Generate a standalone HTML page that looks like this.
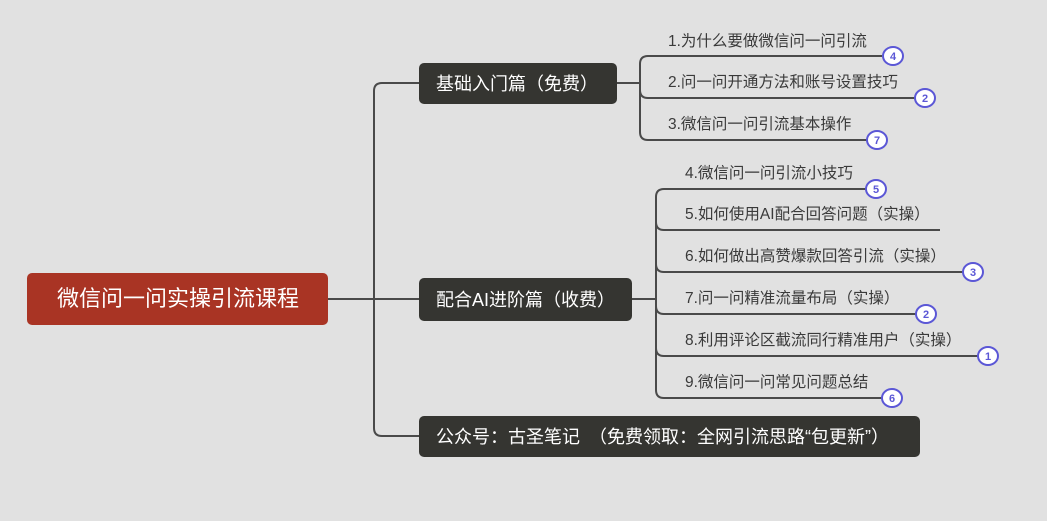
<!DOCTYPE html>
<html><head><meta charset="utf-8"><style>
html,body{margin:0;padding:0;background:#e1e1e1;}
svg{display:block}
text{font-family:"Liberation Sans","Noto Sans CJK SC",sans-serif;}
.it{font-size:15.5px;fill:#3a3a3a}
.bx{font-size:18px;fill:#fff}
.c{fill:#fff;stroke:#5b57d6;stroke-width:2}
.n{font-size:11px;font-weight:bold;fill:#5b57d6;text-anchor:middle}
</style></head><body>
<svg width="1047" height="521" viewBox="0 0 1047 521" xmlns="http://www.w3.org/2000/svg">
<rect width="1047" height="521" fill="#e1e1e1"/>
<g fill="none" stroke="#4a4a4a" stroke-width="2">
<path d="M328 299 H419"/>
<path d="M419 83 H382 Q374 83 374 91 V428 Q374 436 382 436 H419"/>
<path d="M617 83 H640"/>
<path d="M882 56 H648 Q640 56 640 64 V132 Q640 140 648 140 H867"/>
<path d="M640 90 Q640 98 648 98 H915"/>
<path d="M632 299 H656"/>
<path d="M866 189 H664 Q656 189 656 197 V390 Q656 398 664 398 H882"/>
<path d="M656 222 Q656 230 664 230 H940"/>
<path d="M656 264 Q656 272 664 272 H963"/>
<path d="M656 306 Q656 314 664 314 H916"/>
<path d="M656 348 Q656 356 664 356 H978"/>
</g>
<rect x="27" y="273" width="301" height="52" rx="5" fill="#a93424"/>
<text x="178" y="306" font-size="22" fill="#fff" text-anchor="middle">微信问一问实操引流课程</text>
<rect x="419" y="63" width="198" height="41" rx="5" fill="#353531"/>
<text x="436" y="90" class="bx">基础入门篇（免费）</text>
<rect x="419" y="278" width="213" height="43" rx="5" fill="#353531"/>
<text x="436" y="306" class="bx">配合AI进阶篇（收费）</text>
<rect x="419" y="416" width="501" height="41" rx="5" fill="#353531"/>
<text x="436" y="443" class="bx" xml:space="preserve">公众号：古圣笔记　（免费领取：全网引流思路“包更新”）</text>
<text x="668" y="46" class="it">1.为什么要做微信问一问引流</text>
<text x="668" y="87" class="it">2.问一问开通方法和账号设置技巧</text>
<text x="668" y="129" class="it">3.微信问一问引流基本操作</text>
<text x="685" y="178" class="it">4.微信问一问引流小技巧</text>
<text x="685" y="219" class="it">5.如何使用AI配合回答问题（实操）</text>
<text x="685" y="261" class="it">6.如何做出高赞爆款回答引流（实操）</text>
<text x="685" y="303" class="it">7.问一问精准流量布局（实操）</text>
<text x="685" y="345" class="it">8.利用评论区截流同行精准用户（实操）</text>
<text x="685" y="387" class="it">9.微信问一问常见问题总结</text>
<g>
<ellipse class="c" cx="893" cy="56" rx="10" ry="9"/><text class="n" x="893" y="60">4</text>
<ellipse class="c" cx="925" cy="98" rx="10" ry="9"/><text class="n" x="925" y="102">2</text>
<ellipse class="c" cx="877" cy="140" rx="10" ry="9"/><text class="n" x="877" y="144">7</text>
<ellipse class="c" cx="876" cy="189" rx="10" ry="9"/><text class="n" x="876" y="193">5</text>
<ellipse class="c" cx="973" cy="272" rx="10" ry="9"/><text class="n" x="973" y="276">3</text>
<ellipse class="c" cx="926" cy="314" rx="10" ry="9"/><text class="n" x="926" y="318">2</text>
<ellipse class="c" cx="988" cy="356" rx="10" ry="9"/><text class="n" x="988" y="360">1</text>
<ellipse class="c" cx="892" cy="398" rx="10" ry="9"/><text class="n" x="892" y="402">6</text>
</g>
</svg>
</body></html>
